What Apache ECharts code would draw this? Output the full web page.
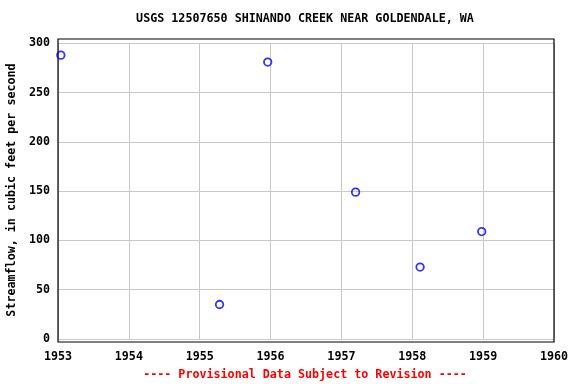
<!DOCTYPE html>
<html><head><meta charset="utf-8">
<script src="https://cdn.jsdelivr.net/npm/echarts@6/dist/echarts.min.js"></script>
<style>html,body{margin:0;padding:0;background:#fff}#c{width:576px;height:384px}</style>
</head><body><div id="c"></div>
<script>
const titleText = 'USGS 12507650 SHINANDO CREEK NEAR GOLDENDALE, WA';
const yAxisName = 'Streamflow, in cubic feet per second';
const footnote = '---- Provisional Data Subject to Revision ----';
const dates = [1953.04, 1955.28, 1955.96, 1957.20, 1958.11, 1958.98];
const flows = [288, 35, 281, 149, 73, 109];
const xTicks = [1953, 1954, 1955, 1956, 1957, 1958, 1959, 1960];
const yTicks = [0, 50, 100, 150, 200, 250, 300];

const font = 'DejaVu Sans Mono';
const fs = 11.7;
const chart = echarts.init(document.getElementById('c'));
chart.setOption({
  animation: false,
  backgroundColor: '#fff',
  graphic: [
    {type: 'text', x: 305, y: 19, style: {text: titleText, fill: '#000',
      font: 'bold ' + fs + 'px ' + font, align: 'center', verticalAlign: 'middle'}},
    {type: 'text', x: 305, y: 375, style: {text: footnote, fill: '#f00',
      font: 'bold ' + fs + 'px ' + font, align: 'center', verticalAlign: 'middle'}},
    {type: 'text', rotation: Math.PI/2, x: 12, y: 190, style: {text: yAxisName, fill: '#000',
      font: 'bold ' + fs + 'px ' + font, align: 'center', verticalAlign: 'middle'}}
  ],
  grid: [
    {left: 58, right: 22, top: 43.3, bottom: 45, show: false},
    {left: 58, right: 22, top: 39, bottom: 42, show: true, borderColor: '#000', borderWidth: 1.2, backgroundColor: 'transparent', z: 5}
  ],
  xAxis: [
    {type: 'value', gridIndex: 0, min: xTicks[0], max: xTicks[xTicks.length-1], interval: 1,
      axisLine: {show: false}, axisTick: {show: false},
      splitLine: {show: true, lineStyle: {color: '#c8c8c8', width: 1}},
      axisLabel: {show: false}},
    {type: 'value', gridIndex: 1, min: xTicks[0], max: xTicks[xTicks.length-1], interval: 1,
      axisLine: {show: false}, axisTick: {show: false}, splitLine: {show: false},
      axisLabel: {show: true, margin: 9, color: '#000', fontFamily: font, fontWeight: 'bold', fontSize: fs,
        formatter: v => String(v)}}
  ],
  yAxis: [
    {type: 'value', gridIndex: 0, min: yTicks[0], max: yTicks[yTicks.length-1], interval: 50,
      axisLine: {show: false}, axisTick: {show: false},
      splitLine: {show: true, lineStyle: {color: '#c8c8c8', width: 1}},
      axisLabel: {show: true, margin: 8, color: '#000', fontFamily: font, fontWeight: 'bold', fontSize: fs,
        lineHeight: 16, verticalAlign: 'middle', padding: [3, 0, 0, 0]}},
    {type: 'value', gridIndex: 1, show: false}
  ],
  series: [{
    type: 'scatter', xAxisIndex: 0, yAxisIndex: 0,
    data: dates.map((d, i) => [d, flows[i]]),
    symbol: 'circle', symbolSize: 7.5,
    itemStyle: {color: 'transparent', borderColor: '#0000ff', borderWidth: 1.8},
    z: 10
  }]
});
</script></body></html>
